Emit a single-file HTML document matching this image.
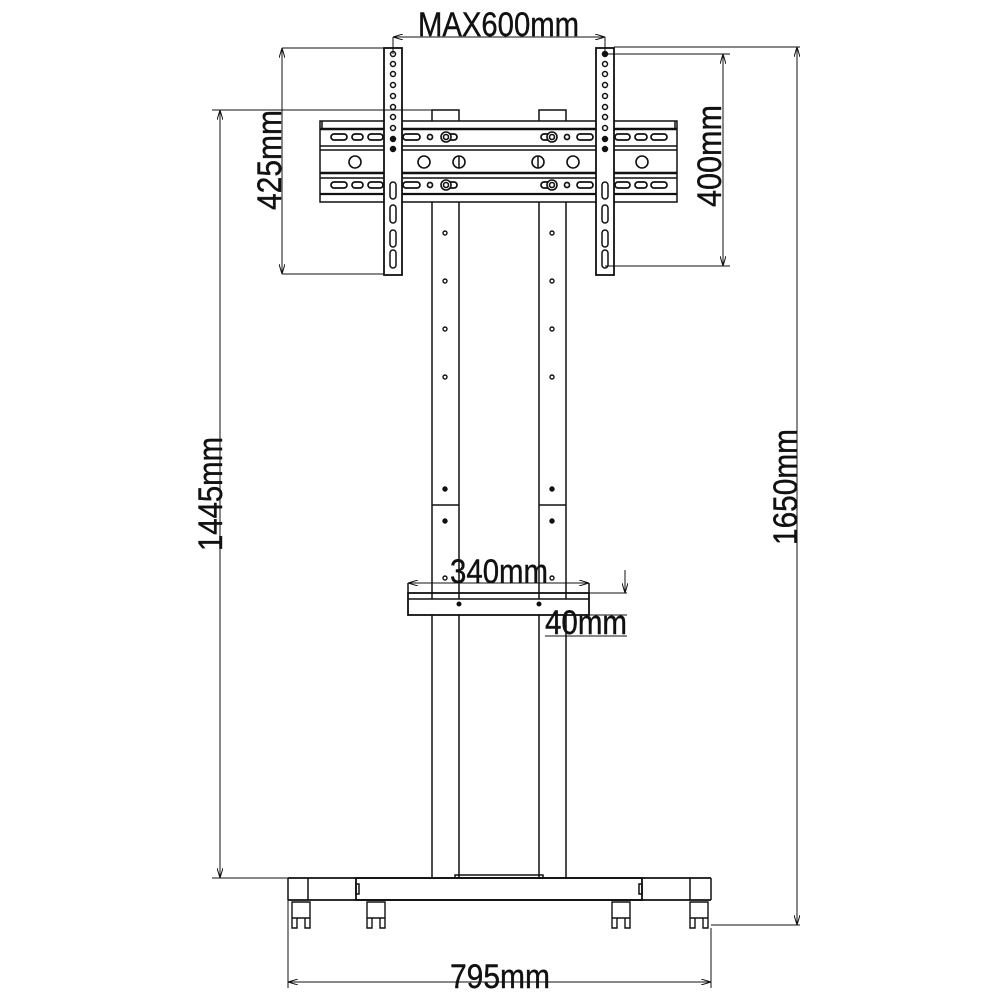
<!DOCTYPE html>
<html><head><meta charset="utf-8"><style>html,body{margin:0;padding:0;background:#fff}svg{display:block}text{font-family:"Liberation Sans",Arial,sans-serif;fill:#111;stroke:#111;stroke-width:0.4}</style></head><body>
<svg width="1000" height="1000" viewBox="0 0 1000 1000" xmlns="http://www.w3.org/2000/svg">
<defs>
<marker id="a" viewBox="0 0 10 6" refX="10" refY="3" markerWidth="10" markerHeight="6" orient="auto-start-reverse" markerUnits="userSpaceOnUse"><path d="M0,0 L10,3 L0,6" fill="none" stroke="#111" stroke-width="1"/></marker>
</defs>
<g stroke="#111" stroke-width="1.5" fill="none">
<line x1="432" y1="202" x2="432" y2="878"/><line x1="459" y1="202" x2="459" y2="878"/>
<line x1="539" y1="202" x2="539" y2="878"/><line x1="566" y1="202" x2="566" y2="878"/>
<line x1="432" y1="505" x2="459" y2="505"/><line x1="539" y1="505" x2="566" y2="505"/>
<rect x="432" y="110" width="27" height="12"/><rect x="539" y="110" width="27" height="12"/>
<rect x="320" y="121" width="357" height="81" fill="#fff"/>
<line x1="320" y1="129" x2="677" y2="129" stroke-width="2.4"/>
<line x1="320" y1="146" x2="677" y2="146"/>
<line x1="320" y1="150" x2="677" y2="150"/>
<line x1="320" y1="173" x2="677" y2="173" stroke-width="2.4"/>
<line x1="320" y1="178" x2="677" y2="178"/>
<line x1="320" y1="194" x2="677" y2="194" stroke-width="2.2"/>
<line x1="322" y1="121" x2="322" y2="129"/><line x1="675" y1="121" x2="675" y2="129"/>
<g stroke-width="1.7">
<rect x="331" y="134" width="16" height="6" rx="3"/><rect x="352" y="134" width="11" height="6" rx="3"/><rect x="368" y="134" width="15" height="6" rx="3"/>
<rect x="403" y="134" width="17" height="6" rx="3"/><rect x="577" y="134" width="16" height="6" rx="3"/>
<rect x="615" y="134" width="15" height="6" rx="3"/><rect x="635" y="134" width="12" height="6" rx="3"/><rect x="651" y="134" width="16" height="6" rx="3"/>
<rect x="331" y="182" width="16" height="6" rx="3"/><rect x="352" y="182" width="11" height="6" rx="3"/><rect x="368" y="182" width="15" height="6" rx="3"/>
<rect x="403" y="182" width="17" height="6" rx="3"/><rect x="577" y="182" width="16" height="6" rx="3"/>
<rect x="615" y="182" width="15" height="6" rx="3"/><rect x="635" y="182" width="12" height="6" rx="3"/><rect x="651" y="182" width="16" height="6" rx="3"/>
<circle cx="430" cy="137" r="2.5"/><circle cx="567" cy="137" r="2.5"/><circle cx="430" cy="185" r="2.5"/><circle cx="567" cy="185" r="2.5"/>
<rect x="442" y="134" width="15" height="6" rx="3"/><rect x="541" y="134" width="15" height="6" rx="3"/>
<rect x="442" y="182" width="15" height="6" rx="3"/><rect x="541" y="182" width="15" height="6" rx="3"/>
</g>
<g fill="#fff" stroke-width="1.6">
<circle cx="446" cy="137" r="5"/><circle cx="446" cy="137" r="2.5"/><circle cx="552" cy="137" r="5"/><circle cx="552" cy="137" r="2.5"/>
<circle cx="446" cy="185" r="5"/><circle cx="446" cy="185" r="2.5"/><circle cx="552" cy="185" r="5"/><circle cx="552" cy="185" r="2.5"/>
<circle cx="355" cy="162" r="6"/><circle cx="424" cy="162" r="6"/><circle cx="459" cy="162" r="6"/><circle cx="538" cy="162" r="6"/><circle cx="573" cy="162" r="6"/><circle cx="642" cy="162" r="6"/>
</g>
<line x1="459" y1="156" x2="459" y2="168"/><line x1="538" y1="156" x2="538" y2="168"/>
<rect x="384" y="48" width="18" height="227" fill="#fff" stroke-width="1.8"/>
<rect x="596" y="48" width="18" height="227" fill="#fff" stroke-width="1.8"/>
<g stroke-width="1.5">
<circle cx="393" cy="54" r="2.5"/><circle cx="393" cy="64" r="2.5"/><circle cx="393" cy="74" r="2.5"/><circle cx="393" cy="85" r="2.5"/><circle cx="393" cy="96" r="2.5"/><circle cx="393" cy="107" r="2.5"/><circle cx="393" cy="117" r="2.5"/><circle cx="393" cy="128" r="2.5"/><circle cx="393" cy="139" r="2.5" fill="#111"/><circle cx="393" cy="149" r="2.5" fill="#111"/>
<circle cx="605" cy="54" r="2.5" fill="#111"/><circle cx="605" cy="64" r="2.5"/><circle cx="605" cy="74" r="2.5"/><circle cx="605" cy="85" r="2.5"/><circle cx="605" cy="96" r="2.5"/><circle cx="605" cy="107" r="2.5"/><circle cx="605" cy="117" r="2.5"/><circle cx="605" cy="128" r="2.5"/><circle cx="605" cy="139" r="2.5" fill="#111"/><circle cx="605" cy="149" r="2.5" fill="#111"/>
<rect x="390" y="182" width="6" height="17" rx="3"/><rect x="390" y="205" width="6" height="18" rx="3"/><rect x="390" y="230" width="6" height="17" rx="3"/><rect x="390" y="250" width="6" height="18" rx="3"/>
<rect x="602" y="182" width="6" height="17" rx="3"/><rect x="602" y="205" width="6" height="18" rx="3"/><rect x="602" y="230" width="6" height="17" rx="3"/><rect x="602" y="250" width="6" height="18" rx="3"/>
</g>
<g stroke-width="1.4">
<circle cx="445" cy="233" r="2"/><circle cx="552" cy="233" r="2"/><circle cx="445" cy="281" r="2"/><circle cx="552" cy="281" r="2"/>
<circle cx="445" cy="329" r="2"/><circle cx="552" cy="329" r="2"/><circle cx="445" cy="377" r="2"/><circle cx="552" cy="377" r="2"/>
<circle cx="445" cy="489" r="2" fill="#111"/><circle cx="552" cy="489" r="2" fill="#111"/><circle cx="445" cy="521" r="2" fill="#111"/><circle cx="552" cy="521" r="2" fill="#111"/>
<circle cx="445" cy="578" r="2"/><circle cx="552" cy="578" r="2"/>
</g>
<rect x="408" y="593" width="181" height="22" fill="#fff" stroke-width="1.8"/>
<line x1="408" y1="599" x2="589" y2="599"/>
<line x1="432" y1="593" x2="432" y2="599"/><line x1="459" y1="593" x2="459" y2="599"/><line x1="539" y1="593" x2="539" y2="599"/><line x1="566" y1="593" x2="566" y2="599"/>
<circle cx="459" cy="604" r="1.8" fill="#111"/><circle cx="539" cy="604" r="1.8" fill="#111"/>
<line x1="408" y1="583" x2="589" y2="583" stroke-width="1" marker-start="url(#a)" marker-end="url(#a)"/>
<line x1="408" y1="583" x2="408" y2="593"/><line x1="589" y1="583" x2="589" y2="593"/>
<line x1="589" y1="593" x2="627" y2="593" stroke-width="1"/><line x1="589" y1="615" x2="627" y2="615" stroke-width="1"/>
<line x1="625" y1="570" x2="625" y2="593" stroke-width="1" marker-end="url(#a)"/>
<line x1="545" y1="636" x2="627" y2="636" stroke-width="1"/>
<rect x="455" y="875" width="88" height="3"/>
<line x1="288" y1="878" x2="711" y2="878" stroke-width="1.8"/>
<line x1="288" y1="900" x2="711" y2="900" stroke-width="1.8"/>
<line x1="288" y1="878" x2="288" y2="900"/><line x1="308" y1="878" x2="308" y2="900"/>
<line x1="690" y1="878" x2="690" y2="900"/><line x1="711" y1="878" x2="711" y2="900"/>
<rect x="356" y="878" width="286" height="22" stroke-width="1.8"/>
<rect x="356" y="884" width="3" height="10"/><rect x="639" y="884" width="3" height="10"/>
<g stroke-width="1.4">
<path d="M292,902 h18 v16 h-18z M292,918 v10 h5 v-10 M305,918 v10 h5 v-10"/>
<path d="M367,902 h18 v16 h-18z M367,918 v10 h5 v-10 M380,918 v10 h5 v-10"/>
<path d="M612,902 h18 v16 h-18z M612,918 v10 h5 v-10 M625,918 v10 h5 v-10"/>
<path d="M690,902 h18 v16 h-18z M690,918 v10 h5 v-10 M703,918 v10 h5 v-10"/>
</g>
<g stroke-width="1">
<line x1="393" y1="37" x2="605" y2="37" marker-start="url(#a)" marker-end="url(#a)"/>
<line x1="393" y1="37" x2="393" y2="54"/><line x1="605" y1="37" x2="605" y2="54"/>
<line x1="282" y1="48" x2="384" y2="48"/><line x1="282" y1="274" x2="384" y2="274"/>
<line x1="282" y1="48" x2="282" y2="274" marker-start="url(#a)" marker-end="url(#a)"/>
<line x1="605" y1="54" x2="730" y2="54"/><line x1="605" y1="266" x2="730" y2="266"/>
<line x1="723" y1="54" x2="723" y2="266" marker-start="url(#a)" marker-end="url(#a)"/>
<line x1="614" y1="47" x2="800" y2="47"/><line x1="711" y1="925" x2="800" y2="925"/>
<line x1="797" y1="47" x2="797" y2="925" marker-start="url(#a)" marker-end="url(#a)"/>
<line x1="212" y1="110" x2="432" y2="110"/><line x1="212" y1="878" x2="288" y2="878"/>
<line x1="220" y1="110" x2="220" y2="878" marker-start="url(#a)" marker-end="url(#a)"/>
<line x1="288" y1="900" x2="288" y2="988"/><line x1="711" y1="928" x2="711" y2="988"/>
<line x1="288" y1="982" x2="711" y2="982" marker-start="url(#a)" marker-end="url(#a)"/>
</g>
</g>
<g font-size="34">
<text x="418" y="36" textLength="161" lengthAdjust="spacingAndGlyphs">MAX600mm</text>
<text x="450" y="583" textLength="98" lengthAdjust="spacingAndGlyphs">340mm</text>
<text x="545" y="634" textLength="82" lengthAdjust="spacingAndGlyphs">40mm</text>
<text x="450" y="988" textLength="100" lengthAdjust="spacingAndGlyphs">795mm</text>
<text transform="translate(281,210) rotate(-90)" textLength="100" lengthAdjust="spacingAndGlyphs">425mm</text>
<text transform="translate(721,207) rotate(-90)" textLength="102" lengthAdjust="spacingAndGlyphs">400mm</text>
<text transform="translate(222,551) rotate(-90)" textLength="114" lengthAdjust="spacingAndGlyphs">1445mm</text>
<text transform="translate(797,545) rotate(-90)" textLength="116" lengthAdjust="spacingAndGlyphs">1650mm</text>
</g>
</svg>
</body></html>
